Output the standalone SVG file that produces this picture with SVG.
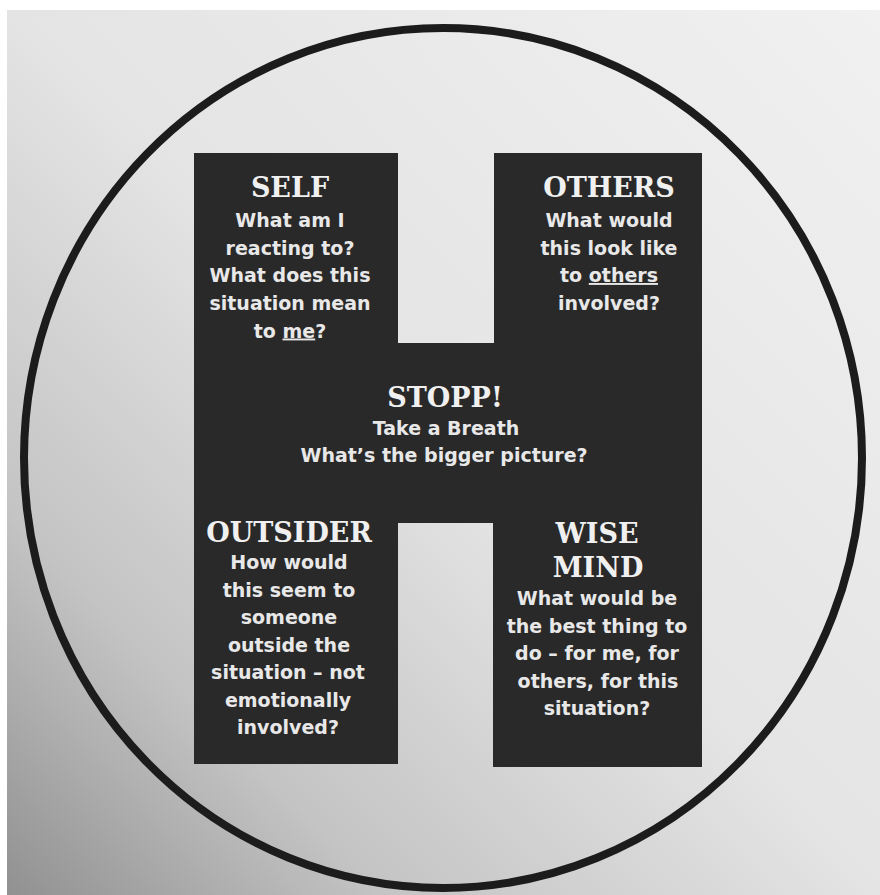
<svg xmlns="http://www.w3.org/2000/svg" width="880" height="895" viewBox="0 0 880 895">
  <defs>
    <linearGradient id="paper" x1="1" y1="0" x2="0" y2="1">
      <stop offset="0" stop-color="#f1f1f1"/>
      <stop offset="0.5" stop-color="#e4e4e4"/>
      <stop offset="0.78" stop-color="#c4c4c4"/>
      <stop offset="1" stop-color="#909090"/>
    </linearGradient>
    <style>
      .hshape { fill: #292929; }
      .ring { fill: none; stroke: #1c1c1c; stroke-width: 8; }
      .title { font-family: "DejaVu Serif", "Liberation Serif", serif; font-weight: bold; font-size: 27px; fill: #f0f0f0; text-anchor: middle; }
      .body { font-family: "DejaVu Sans", "Liberation Sans", sans-serif; font-weight: bold; font-size: 19px; fill: #e8e8e8; text-anchor: middle; }
      .u { text-decoration: underline; }
    </style>
  </defs>

  <rect x="0" y="0" width="880" height="895" fill="url(#paper)"/>
  <rect x="0" y="0" width="880" height="10" fill="#ffffff"/>
  <rect x="0" y="0" width="7" height="895" fill="#ffffff"/>

  <ellipse class="ring" cx="443" cy="458" rx="419" ry="430"/>

  <g id="h-shape">
    <path class="hshape" d="M194,153 H398 V343 H494 V153 H702 V767 H493 V523 H398 V764 H194 Z"/>
  </g>

  <g id="node-self">
    <text class="title" x="290" y="197">SELF</text>
    <text class="body" x="290" y="227">What am I</text>
    <text class="body" x="290" y="254.5">reacting to?</text>
    <text class="body" x="290" y="282">What does this</text>
    <text class="body" x="290" y="310">situation mean</text>
    <text class="body" x="290" y="337.5">to <tspan class="u">me</tspan>?</text>
  </g>

  <g id="node-others">
    <text class="title" x="609" y="197">OTHERS</text>
    <text class="body" x="609" y="227">What would</text>
    <text class="body" x="609" y="254.5">this look like</text>
    <text class="body" x="609" y="282">to <tspan class="u">others</tspan></text>
    <text class="body" x="609" y="309.5">involved?</text>
  </g>

  <g id="node-stopp">
    <text class="title" x="445" y="407">STOPP!</text>
    <text class="body" x="446" y="435">Take a Breath</text>
    <text class="body" x="444" y="462">What’s the bigger picture?</text>
  </g>

  <g id="node-outsider">
    <text class="title" x="289" y="542">OUTSIDER</text>
    <text class="body" x="289" y="569">How would</text>
    <text class="body" x="289" y="596.5">this seem to</text>
    <text class="body" x="289" y="624">someone</text>
    <text class="body" x="289" y="651.5">outside the</text>
    <text class="body" x="288" y="679">situation – not</text>
    <text class="body" x="288" y="706.5">emotionally</text>
    <text class="body" x="288" y="734">involved?</text>
  </g>

  <g id="node-wisemind">
    <text class="title" x="597" y="543">WISE</text>
    <text class="title" x="598" y="577">MIND</text>
    <text class="body" x="597" y="605">What would be</text>
    <text class="body" x="597" y="632.5">the best thing to</text>
    <text class="body" x="597" y="660">do – for me, for</text>
    <text class="body" x="598" y="687.5">others, for this</text>
    <text class="body" x="597" y="715">situation?</text>
  </g>
</svg>
